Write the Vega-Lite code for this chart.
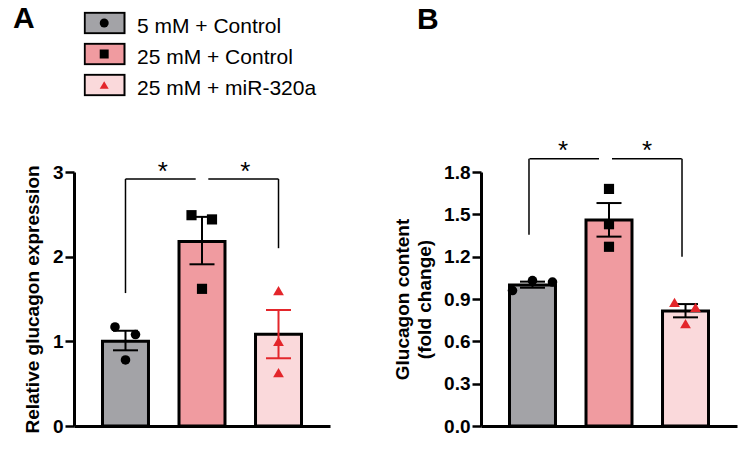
{
"$schema":"https://vega.github.io/schema/vega-lite/v6.json",
"padding":{"left":13,"top":4,"right":5,"bottom":5},
"background":"white",
"bounds":"flush",
"spacing":151,
"config":{
 "font":"Liberation Sans",
 "view":{"stroke":null},
 "axisY":{"domainColor":"black","domainWidth":3,"tickColor":"black","tickWidth":2.5,"tickSize":9,"labelFontSize":19,"labelFontWeight":"bold","labelColor":"black","labelPadding":2,"titleFontSize":19,"titleFontWeight":"bold","titleColor":"black","grid":false},
 "axisX":{"domainColor":"black","domainWidth":3,"labels":false,"ticks":false,"title":null,"grid":false}
},
"datasets":{
 "sumA":[
  {"group":"5 mM + Control","mean":1.0,"lo":0.894,"hi":1.125},
  {"group":"25 mM + Control","mean":2.18,"lo":1.91,"hi":2.47},
  {"group":"25 mM + miR-320a","mean":1.083,"lo":0.80,"hi":1.37}
 ],
 "ptsA":[
  {"group":"5 mM + Control","value":1.17,"rep":"b"},
  {"group":"5 mM + Control","value":1.08,"rep":"d"},
  {"group":"5 mM + Control","value":0.78,"rep":"c"},
  {"group":"25 mM + Control","value":2.49,"rep":"b"},
  {"group":"25 mM + Control","value":2.44,"rep":"d"},
  {"group":"25 mM + Control","value":1.62,"rep":"c"},
  {"group":"25 mM + miR-320a","value":1.60,"rep":"c"},
  {"group":"25 mM + miR-320a","value":1.00,"rep":"c"},
  {"group":"25 mM + miR-320a","value":0.63,"rep":"c"}
 ],
 "sumB":[
  {"group":"5 mM + Control","mean":1.0,"lo":0.98,"hi":1.023},
  {"group":"25 mM + Control","mean":1.459,"lo":1.342,"hi":1.58},
  {"group":"25 mM + miR-320a","mean":0.815,"lo":0.77,"hi":0.864}
 ],
 "ptsB":[
  {"group":"5 mM + Control","value":0.96,"rep":"a"},
  {"group":"5 mM + Control","value":1.03,"rep":"c"},
  {"group":"5 mM + Control","value":1.02,"rep":"e"},
  {"group":"25 mM + Control","value":1.68,"rep":"c"},
  {"group":"25 mM + Control","value":1.43,"rep":"c"},
  {"group":"25 mM + Control","value":1.27,"rep":"c"},
  {"group":"25 mM + miR-320a","value":0.876,"rep":"b"},
  {"group":"25 mM + miR-320a","value":0.84,"rep":"d"},
  {"group":"25 mM + miR-320a","value":0.725,"rep":"c"}
 ]
},
"hconcat":[
 {
  "width":256,"height":254,
  "layer":[
   {"data":{"name":"sumA"},
    "mark":{"type":"bar","stroke":"black","strokeWidth":3},
    "encoding":{
     "x":{"field":"group","type":"nominal","scale":{"domain":["5 mM + Control","25 mM + Control","25 mM + miR-320a"],"paddingInner":0.399,"paddingOuter":0.3725},"axis":{"labels":false,"ticks":false,"title":null}},
     "y":{"field":"mean","type":"quantitative","scale":{"domain":[0,3],"nice":false},"axis":{"values":[0,1,2,3],"format":"d","title":"Relative glucagon expression","titlePadding":10}},
     "fill":{"field":"group","type":"nominal","sort":["5 mM + Control","25 mM + Control","25 mM + miR-320a"],"scale":{"range":["#A3A3A7","#F09BA0","#FAD9DB"]},
      "legend":{"orient":"none","legendX":-61,"legendY":-160.5,"title":"A","titleOrient":"left","titleAnchor":"start","titleBaseline":"line-top","titleLineHeight":14.6,"titleFontSize":30,"titleFontWeight":"bold","titleColor":"black","titlePadding":48.6,"symbolType":"M-1.92,-1H1.92V1H-1.92Z","symbolSize":430,"symbolOffset":9.5,"symbolStrokeColor":"black","symbolStrokeWidth":2,"symbolOpacity":1,"labelExpr":"''","labelFontSize":21,"labelOffset":21.3,"rowPadding":8,"clipHeight":23,"padding":0}}
    }},
   {"data":{"name":"sumA"},
    "mark":{"type":"rule","strokeWidth":2},
    "encoding":{
     "x":{"field":"group","type":"nominal","scale":{"domain":["5 mM + Control","25 mM + Control","25 mM + miR-320a"]}},
     "y":{"field":"lo","type":"quantitative"},
     "y2":{"field":"hi"},
     "color":{"field":"group","type":"nominal","scale":{"domain":["5 mM + Control","25 mM + Control","25 mM + miR-320a"],"range":["black","black","#E3262B"]}}
    }},
   {"data":{"name":"sumA"},
    "mark":{"type":"tick","size":25,"thickness":2,"opacity":1},
    "encoding":{
     "x":{"field":"group","type":"nominal","scale":{"domain":["5 mM + Control","25 mM + Control","25 mM + miR-320a"]}},
     "y":{"field":"hi","type":"quantitative"},
     "color":{"field":"group","type":"nominal","scale":{"domain":["5 mM + Control","25 mM + Control","25 mM + miR-320a"],"range":["black","black","#E3262B"]}}
    }},
   {"data":{"name":"sumA"},
    "mark":{"type":"tick","size":25,"thickness":2,"opacity":1},
    "encoding":{
     "x":{"field":"group","type":"nominal","scale":{"domain":["5 mM + Control","25 mM + Control","25 mM + miR-320a"]}},
     "y":{"field":"lo","type":"quantitative"},
     "color":{"field":"group","type":"nominal","scale":{"domain":["5 mM + Control","25 mM + Control","25 mM + miR-320a"],"range":["black","black","#E3262B"]}}
    }},
   {"data":{"name":"ptsA"},
    "transform":[{"filter":"datum.rep == 'c'"}],
    "mark":{"type":"point","filled":true,"opacity":1},
    "encoding":{
     "x":{"field":"group","type":"nominal","scale":{"domain":["5 mM + Control","25 mM + Control","25 mM + miR-320a"]}},
     "y":{"field":"value","type":"quantitative"},
     "color":{"field":"group","type":"nominal","scale":{"domain":["5 mM + Control","25 mM + Control","25 mM + miR-320a"],"range":["black","black","#E3262B"]},
      "legend":{"orient":"none","legendX":19.7,"legendY":-160.5,"title":null,"symbolSize":80,"symbolOpacity":1,"symbolStrokeWidth":0,"labelExpr":"''","labelFontSize":21,"rowPadding":8,"clipHeight":23,"padding":0}},
     "shape":{"field":"group","type":"nominal","scale":{"domain":["5 mM + Control","25 mM + Control","25 mM + miR-320a"],"range":["circle","square","triangle-up"]},
      "legend":{"orient":"none","legendX":19.7,"legendY":-160.5,"title":null,"symbolSize":80,"symbolOpacity":1,"symbolStrokeWidth":0,"labelExpr":"''","labelFontSize":21,"rowPadding":8,"clipHeight":23,"padding":0}},
     "size":{"field":"group","type":"ordinal","scale":{"domain":["25 mM + miR-320a","25 mM + Control","5 mM + Control"],"range":[115,92,75]},
      "legend":{"values":["5 mM + Control","25 mM + Control","25 mM + miR-320a"],"orient":"none","legendX":19.7,"legendY":-156.3,"title":null,"symbolType":"M0,0","symbolOpacity":0,"symbolFillColor":"transparent","symbolStrokeColor":"transparent","symbolStrokeWidth":0,"labelFontSize":21,"labelColor":"black","labelOffset":22.3,"labelLimit":300,"rowPadding":8,"clipHeight":23,"padding":0}}
    }},
   {"data":{"name":"ptsA"},
    "transform":[{"filter":"datum.rep == 'b'"}],
    "mark":{"type":"point","filled":true,"opacity":1,"xOffset":-10.5},
    "encoding":{
     "x":{"field":"group","type":"nominal","scale":{"domain":["5 mM + Control","25 mM + Control","25 mM + miR-320a"]}},
     "y":{"field":"value","type":"quantitative"},
     "color":{"field":"group","type":"nominal","scale":{"domain":["5 mM + Control","25 mM + Control","25 mM + miR-320a"],"range":["black","black","#E3262B"]}},
     "shape":{"field":"group","type":"nominal","scale":{"domain":["5 mM + Control","25 mM + Control","25 mM + miR-320a"],"range":["circle","square","triangle-up"]}},
     "size":{"field":"group","type":"ordinal","scale":{"domain":["25 mM + miR-320a","25 mM + Control","5 mM + Control"],"range":[115,92,75]}}
    }},
   {"data":{"name":"ptsA"},
    "transform":[{"filter":"datum.rep == 'd'"}],
    "mark":{"type":"point","filled":true,"opacity":1,"xOffset":10},
    "encoding":{
     "x":{"field":"group","type":"nominal","scale":{"domain":["5 mM + Control","25 mM + Control","25 mM + miR-320a"]}},
     "y":{"field":"value","type":"quantitative"},
     "color":{"field":"group","type":"nominal","scale":{"domain":["5 mM + Control","25 mM + Control","25 mM + miR-320a"],"range":["black","black","#E3262B"]}},
     "shape":{"field":"group","type":"nominal","scale":{"domain":["5 mM + Control","25 mM + Control","25 mM + miR-320a"],"range":["circle","square","triangle-up"]}},
     "size":{"field":"group","type":"ordinal","scale":{"domain":["25 mM + miR-320a","25 mM + Control","5 mM + Control"],"range":[115,92,75]}}
    }},
   {"data":{"values":[{"a":"5 mM + Control","b":"25 mM + Control","y":2.917}]},
    "mark":{"type":"rule","strokeWidth":1.5,"color":"black","x2Offset":-6.3},
    "encoding":{
     "x":{"field":"a","type":"nominal","bandPosition":0.5,"scale":{"domain":["5 mM + Control","25 mM + Control","25 mM + miR-320a"]}},
     "x2":{"field":"b","bandPosition":0.5},
     "y":{"field":"y","type":"quantitative"}
    }},
   {"data":{"values":[{"a":"25 mM + Control","b":"25 mM + miR-320a","y":2.917}]},
    "mark":{"type":"rule","strokeWidth":1.5,"color":"black","xOffset":6.3},
    "encoding":{
     "x":{"field":"a","type":"nominal","bandPosition":0.5,"scale":{"domain":["5 mM + Control","25 mM + Control","25 mM + miR-320a"]}},
     "x2":{"field":"b","bandPosition":0.5},
     "y":{"field":"y","type":"quantitative"}
    }},
   {"data":{"values":[{"g":"5 mM + Control","top":2.917,"bottom":1.57},{"g":"25 mM + miR-320a","top":2.917,"bottom":2.10}]},
    "mark":{"type":"rule","strokeWidth":1.5,"color":"black"},
    "encoding":{
     "x":{"field":"g","type":"nominal","bandPosition":0.5,"scale":{"domain":["5 mM + Control","25 mM + Control","25 mM + miR-320a"]}},
     "y":{"field":"bottom","type":"quantitative"},
     "y2":{"field":"top"}
    }},
   {"data":{"values":[{"g":"25 mM + Control","y":2.91,"t":"*"}]},
    "mark":{"type":"text","fontSize":26,"color":"black","baseline":"alphabetic","align":"center","dx":-39.3},
    "encoding":{
     "x":{"field":"g","type":"nominal","bandPosition":0.5,"scale":{"domain":["5 mM + Control","25 mM + Control","25 mM + miR-320a"]}},
     "y":{"field":"y","type":"quantitative"},
     "text":{"field":"t"}
    }},
   {"data":{"values":[{"g":"25 mM + Control","y":2.91,"t":"*"}]},
    "mark":{"type":"text","fontSize":26,"color":"black","baseline":"alphabetic","align":"center","dx":43.3},
    "encoding":{
     "x":{"field":"g","type":"nominal","bandPosition":0.5,"scale":{"domain":["5 mM + Control","25 mM + Control","25 mM + miR-320a"]}},
     "y":{"field":"y","type":"quantitative"},
     "text":{"field":"t"}
    }}
  ]
 },
 {
  "width":256,"height":254,
  "title":{"text":"B","anchor":"start","frame":"group","dx":-64,"fontSize":30,"fontWeight":"bold","color":"black","offset":103},
  "layer":[
   {"data":{"name":"sumB"},
    "mark":{"type":"bar","stroke":"black","strokeWidth":3},
    "encoding":{
     "x":{"field":"group","type":"nominal","scale":{"domain":["5 mM + Control","25 mM + Control","25 mM + miR-320a"],"paddingInner":0.399,"paddingOuter":0.3725},"axis":{"labels":false,"ticks":false,"title":null}},
     "y":{"field":"mean","type":"quantitative","scale":{"domain":[0,1.8],"nice":false},"axis":{"values":[0,0.3,0.6,0.9,1.2,1.5,1.8],"format":".1f","title":["Glucagon content","(fold change)"],"titlePadding":9,"titleLineHeight":22}},
     "fill":{"field":"group","type":"nominal","sort":["5 mM + Control","25 mM + Control","25 mM + miR-320a"],"scale":{"range":["#A3A3A7","#F09BA0","#FAD9DB"]},"legend":null}
    }},
   {"data":{"name":"sumB"},
    "mark":{"type":"rule","strokeWidth":2,"color":"black"},
    "encoding":{
     "x":{"field":"group","type":"nominal","scale":{"domain":["5 mM + Control","25 mM + Control","25 mM + miR-320a"]}},
     "y":{"field":"lo","type":"quantitative"},
     "y2":{"field":"hi"}
    }},
   {"data":{"name":"sumB"},
    "mark":{"type":"tick","size":25,"thickness":2,"opacity":1,"color":"black"},
    "encoding":{
     "x":{"field":"group","type":"nominal","scale":{"domain":["5 mM + Control","25 mM + Control","25 mM + miR-320a"]}},
     "y":{"field":"hi","type":"quantitative"}
    }},
   {"data":{"name":"sumB"},
    "mark":{"type":"tick","size":25,"thickness":2,"opacity":1,"color":"black"},
    "encoding":{
     "x":{"field":"group","type":"nominal","scale":{"domain":["5 mM + Control","25 mM + Control","25 mM + miR-320a"]}},
     "y":{"field":"lo","type":"quantitative"}
    }},
   {"data":{"name":"ptsB"},
    "transform":[{"filter":"datum.rep == 'c'"}],
    "mark":{"type":"point","filled":true,"opacity":1},
    "encoding":{
     "x":{"field":"group","type":"nominal","scale":{"domain":["5 mM + Control","25 mM + Control","25 mM + miR-320a"]}},
     "y":{"field":"value","type":"quantitative"},
     "color":{"field":"group","type":"nominal","scale":{"domain":["5 mM + Control","25 mM + Control","25 mM + miR-320a"],"range":["black","black","#E3262B"]},"legend":null},
     "shape":{"field":"group","type":"nominal","scale":{"domain":["5 mM + Control","25 mM + Control","25 mM + miR-320a"],"range":["circle","square","triangle-up"]},"legend":null},
     "size":{"field":"group","type":"ordinal","scale":{"domain":["5 mM + Control","25 mM + Control","25 mM + miR-320a"],"range":[75,92,115]},"legend":null}
    }},
   {"data":{"name":"ptsB"},
    "transform":[{"filter":"datum.rep == 'a'"}],
    "mark":{"type":"point","filled":true,"opacity":1,"xOffset":-20},
    "encoding":{
     "x":{"field":"group","type":"nominal","scale":{"domain":["5 mM + Control","25 mM + Control","25 mM + miR-320a"]}},
     "y":{"field":"value","type":"quantitative"},
     "color":{"field":"group","type":"nominal","scale":{"domain":["5 mM + Control","25 mM + Control","25 mM + miR-320a"],"range":["black","black","#E3262B"]},"legend":null},
     "shape":{"field":"group","type":"nominal","scale":{"domain":["5 mM + Control","25 mM + Control","25 mM + miR-320a"],"range":["circle","square","triangle-up"]},"legend":null},
     "size":{"field":"group","type":"ordinal","scale":{"domain":["5 mM + Control","25 mM + Control","25 mM + miR-320a"],"range":[75,92,115]},"legend":null}
    }},
   {"data":{"name":"ptsB"},
    "transform":[{"filter":"datum.rep == 'e'"}],
    "mark":{"type":"point","filled":true,"opacity":1,"xOffset":20},
    "encoding":{
     "x":{"field":"group","type":"nominal","scale":{"domain":["5 mM + Control","25 mM + Control","25 mM + miR-320a"]}},
     "y":{"field":"value","type":"quantitative"},
     "color":{"field":"group","type":"nominal","scale":{"domain":["5 mM + Control","25 mM + Control","25 mM + miR-320a"],"range":["black","black","#E3262B"]},"legend":null},
     "shape":{"field":"group","type":"nominal","scale":{"domain":["5 mM + Control","25 mM + Control","25 mM + miR-320a"],"range":["circle","square","triangle-up"]},"legend":null},
     "size":{"field":"group","type":"ordinal","scale":{"domain":["5 mM + Control","25 mM + Control","25 mM + miR-320a"],"range":[75,92,115]},"legend":null}
    }},
   {"data":{"name":"ptsB"},
    "transform":[{"filter":"datum.rep == 'b'"}],
    "mark":{"type":"point","filled":true,"opacity":1,"xOffset":-11},
    "encoding":{
     "x":{"field":"group","type":"nominal","scale":{"domain":["5 mM + Control","25 mM + Control","25 mM + miR-320a"]}},
     "y":{"field":"value","type":"quantitative"},
     "color":{"field":"group","type":"nominal","scale":{"domain":["5 mM + Control","25 mM + Control","25 mM + miR-320a"],"range":["black","black","#E3262B"]},"legend":null},
     "shape":{"field":"group","type":"nominal","scale":{"domain":["5 mM + Control","25 mM + Control","25 mM + miR-320a"],"range":["circle","square","triangle-up"]},"legend":null},
     "size":{"field":"group","type":"ordinal","scale":{"domain":["5 mM + Control","25 mM + Control","25 mM + miR-320a"],"range":[75,92,115]},"legend":null}
    }},
   {"data":{"name":"ptsB"},
    "transform":[{"filter":"datum.rep == 'd'"}],
    "mark":{"type":"point","filled":true,"opacity":1,"xOffset":10},
    "encoding":{
     "x":{"field":"group","type":"nominal","scale":{"domain":["5 mM + Control","25 mM + Control","25 mM + miR-320a"]}},
     "y":{"field":"value","type":"quantitative"},
     "color":{"field":"group","type":"nominal","scale":{"domain":["5 mM + Control","25 mM + Control","25 mM + miR-320a"],"range":["black","black","#E3262B"]},"legend":null},
     "shape":{"field":"group","type":"nominal","scale":{"domain":["5 mM + Control","25 mM + Control","25 mM + miR-320a"],"range":["circle","square","triangle-up"]},"legend":null},
     "size":{"field":"group","type":"ordinal","scale":{"domain":["5 mM + Control","25 mM + Control","25 mM + miR-320a"],"range":[75,92,115]},"legend":null}
    }},
   {"data":{"values":[{"a":"5 mM + Control","b":"25 mM + Control","y":1.894}]},
    "mark":{"type":"rule","strokeWidth":1.5,"color":"black","xOffset":-3,"x2Offset":-10},
    "encoding":{
     "x":{"field":"a","type":"nominal","bandPosition":0.5,"scale":{"domain":["5 mM + Control","25 mM + Control","25 mM + miR-320a"]}},
     "x2":{"field":"b","bandPosition":0.5},
     "y":{"field":"y","type":"quantitative"}
    }},
   {"data":{"values":[{"a":"25 mM + Control","b":"25 mM + miR-320a","y":1.894}]},
    "mark":{"type":"rule","strokeWidth":1.5,"color":"black","xOffset":3,"x2Offset":-3.8},
    "encoding":{
     "x":{"field":"a","type":"nominal","bandPosition":0.5,"scale":{"domain":["5 mM + Control","25 mM + Control","25 mM + miR-320a"]}},
     "x2":{"field":"b","bandPosition":0.5},
     "y":{"field":"y","type":"quantitative"}
    }},
   {"data":{"values":[{"g":"5 mM + Control","top":1.894,"bottom":1.355},{"g":"25 mM + miR-320a","top":1.894,"bottom":1.20}]},
    "mark":{"type":"rule","strokeWidth":1.5,"color":"black","xOffset":-3.5},
    "encoding":{
     "x":{"field":"g","type":"nominal","bandPosition":0.5,"scale":{"domain":["5 mM + Control","25 mM + Control","25 mM + miR-320a"]}},
     "y":{"field":"bottom","type":"quantitative"},
     "y2":{"field":"top"}
    }},
   {"data":{"values":[{"g":"25 mM + Control","y":1.895,"t":"*"}]},
    "mark":{"type":"text","fontSize":26,"color":"black","baseline":"alphabetic","align":"center","dx":-46},
    "encoding":{
     "x":{"field":"g","type":"nominal","bandPosition":0.5,"scale":{"domain":["5 mM + Control","25 mM + Control","25 mM + miR-320a"]}},
     "y":{"field":"y","type":"quantitative"},
     "text":{"field":"t"}
    }},
   {"data":{"values":[{"g":"25 mM + Control","y":1.895,"t":"*"}]},
    "mark":{"type":"text","fontSize":26,"color":"black","baseline":"alphabetic","align":"center","dx":38},
    "encoding":{
     "x":{"field":"g","type":"nominal","bandPosition":0.5,"scale":{"domain":["5 mM + Control","25 mM + Control","25 mM + miR-320a"]}},
     "y":{"field":"y","type":"quantitative"},
     "text":{"field":"t"}
    }}
  ]
 }
]
}
